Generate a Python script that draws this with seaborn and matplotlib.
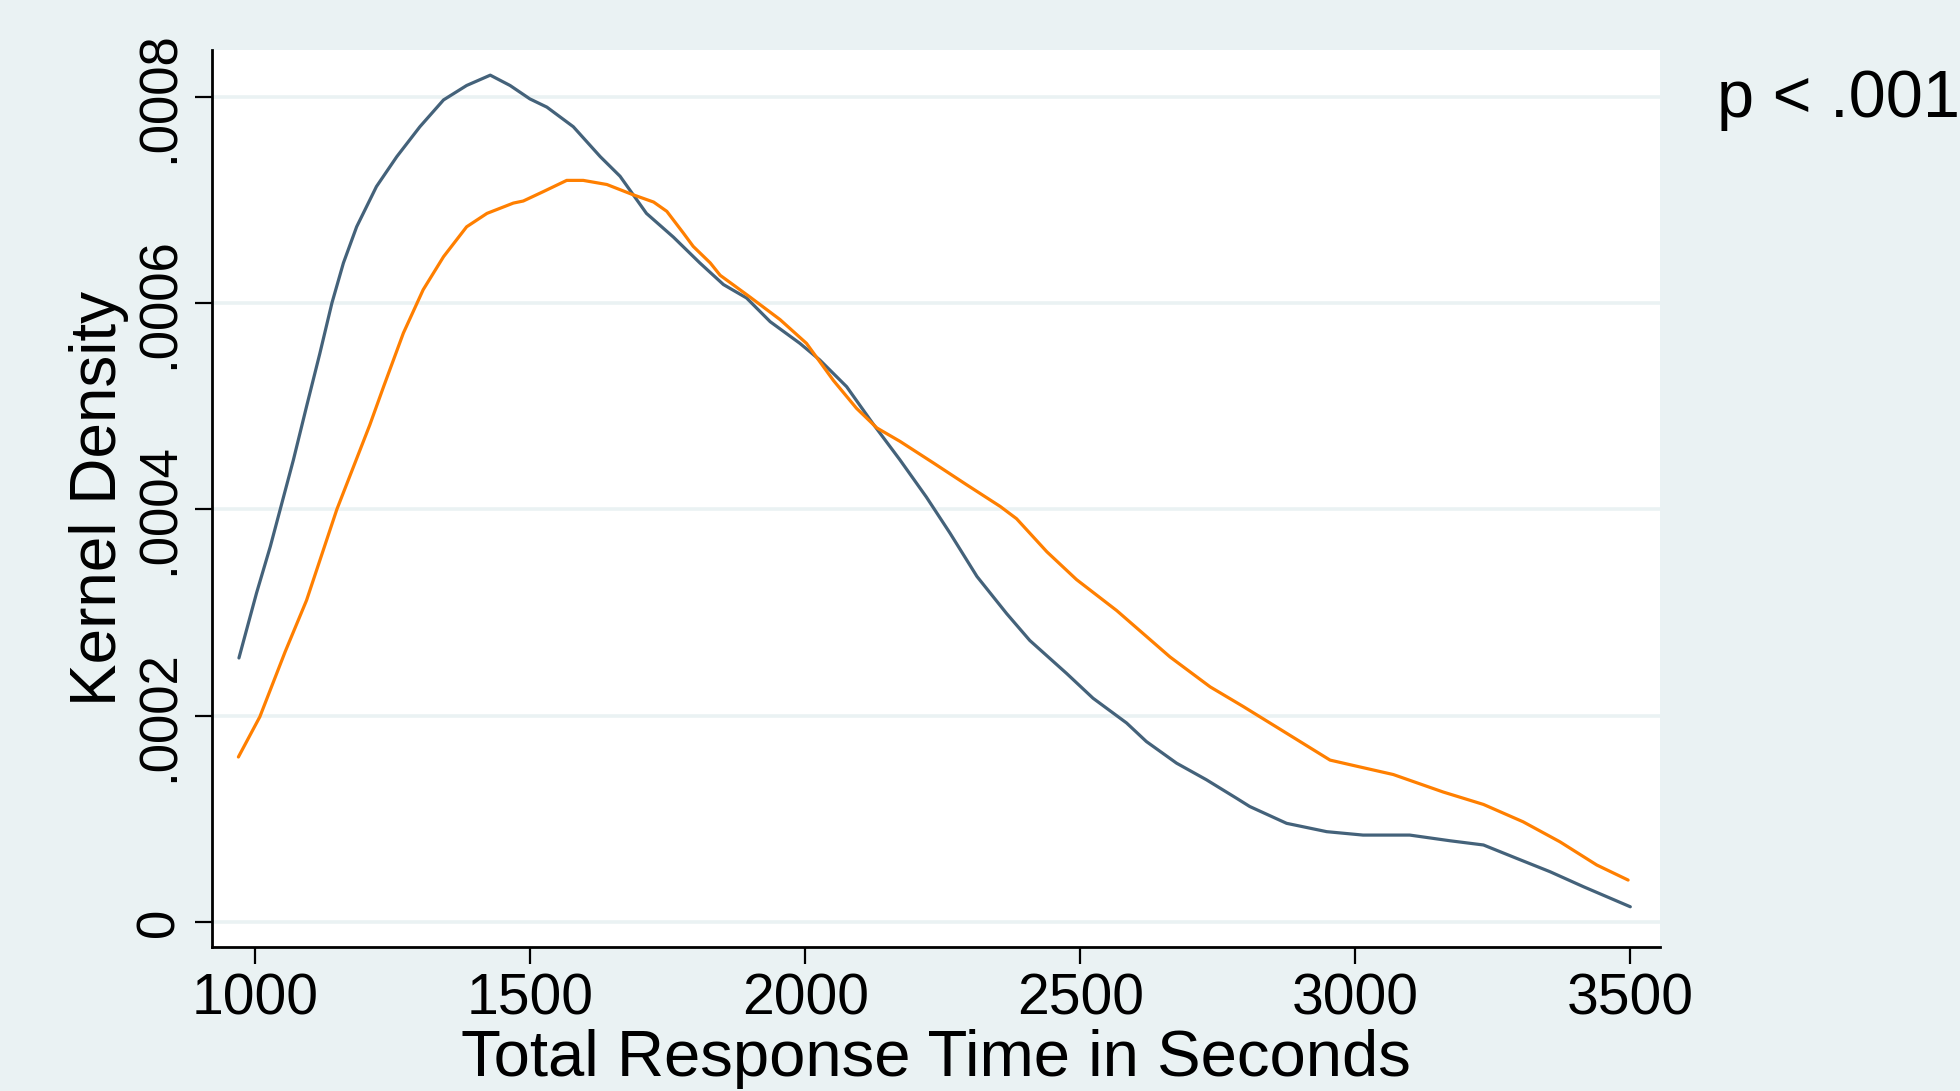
import numpy as np
import pandas as pd
import matplotlib
matplotlib.use("Agg")
import matplotlib.pyplot as plt
import seaborn as sns

# ---- data ----
blue_x = [970, 1002, 1027, 1045, 1069, 1093, 1117, 1139, 1160, 1184, 1220, 1257, 1299, 1342,
          1384, 1427, 1463, 1499, 1530, 1578, 1627, 1663, 1711, 1760, 1808, 1851, 1893, 1936,
          1990, 2026, 2075, 2123, 2172, 2220, 2263, 2312, 2366, 2408, 2475, 2523, 2584, 2620,
          2675, 2729, 2784, 2808, 2875, 2948, 3014, 3099, 3172, 3233, 3293, 3354, 3415, 3500]
blue_y = [.000256, .000319, .000364, .000400, .000448, .000500, .000551, .000600, .000639,
          .000674, .000713, .000742, .000771, .000797, .000811, .000821, .000811, .000798,
          .000790, .000771, .000742, .000723, .000687, .000664, .000639, .000618, .000605,
          .000582, .000561, .000545, .000519, .000483, .000448, .000412, .000377, .000335,
          .000299, .000273, .000241, .000217, .000193, .000175, .000154, .000138, .000120,
          .000112, .0000957, .0000876, .0000843, .0000843, .0000788, .0000747, .0000618,
          .0000488, .0000342, .0000148]

orange_x = [969, 1008, 1054, 1093, 1148, 1208, 1233, 1269, 1305, 1342, 1384, 1421, 1469, 1487,
            1523, 1566, 1596, 1639, 1687, 1724, 1748, 1778, 1796, 1827, 1845, 1899, 1954, 2002,
            2051, 2093, 2130, 2172, 2233, 2293, 2354, 2384, 2439, 2493, 2566, 2663, 2736, 2796,
            2869, 2954, 3003, 3069, 3160, 3233, 3305, 3372, 3439, 3496]
orange_y = [.000160, .000199, .000262, .000312, .000400, .000482, .000519, .000571, .000613,
            .000645, .000674, .000687, .000697, .000699, .000708, .000719, .000719, .000715,
            .000705, .000698, .000689, .000668, .000655, .000639, .000627, .000606, .000584,
            .000561, .000525, .000498, .000479, .000466, .000445, .000424, .000403, .000391,
            .000359, .000332, .000302, .000257, .000228, .000209, .000185, .000157, .000151,
            .000143, .000126, .000114, .0000972, .0000778, .0000553, .0000407]

x_ticks = [1000, 1500, 2000, 2500, 3000, 3500]
x_tick_labels = ["1000", "1500", "2000", "2500", "3000", "3500"]
y_ticks = [0, .0002, .0004, .0006, .0008]
y_tick_labels = ["0", ".0002", ".0004", ".0006", ".0008"]
x_label = "Total Response Time in Seconds"
y_label = "Kernel Density"
annotation = "p < .001"

BG = "#EAF2F3"
BLUE = "#44627A"
ORANGE = "#FF7F00"

sns.set_theme(style="white")
plt.rcParams["font.family"] = ["Liberation Sans", "DejaVu Sans"]

fig = plt.figure(figsize=(19.6, 10.91), dpi=100, facecolor=BG)
ax = fig.add_axes([212 / 1960, 1 - 947 / 1091, (1660 - 212) / 1960, (947 - 50) / 1091])
ax.set_facecolor("white")

sns.lineplot(x=blue_x, y=blue_y, ax=ax, color=BLUE, linewidth=2.3, sort=False,
             estimator=None)
sns.lineplot(x=orange_x, y=orange_y, ax=ax, color=ORANGE, linewidth=2.3, sort=False,
             estimator=None)

ax.set_xlim(921, 3554)
ax.set_ylim(-0.0000242, 0.0008454)

ax.set_xticks(x_ticks)
ax.set_xticklabels(x_tick_labels, fontsize=41)
ax.set_yticks(y_ticks)
ax.set_yticklabels(y_tick_labels, fontsize=38, rotation=90, va="center")

for yv in y_ticks:
    ax.axhline(yv, color=BG, linewidth=2.6, zorder=0.5)

for side in ["top", "right"]:
    ax.spines[side].set_visible(False)
for side in ["left", "bottom"]:
    ax.spines[side].set_color("black")
    ax.spines[side].set_linewidth(2.0)

ax.tick_params(axis="both", which="major", direction="out", length=12.5, width=1.6,
               color="black", labelcolor="black", left=True, bottom=True)
ax.tick_params(axis="y", pad=7)
ax.tick_params(axis="x", pad=6)

ax.set_xlabel(x_label, fontsize=47, color="black", labelpad=2)
ax.set_ylabel(y_label, fontsize=46, color="black", labelpad=4)

fig.text(1717 / 1960, 1 - 100 / 1091, annotation, fontsize=48, color="black",
         ha="left", va="center")

fig.savefig("out.png", dpi=100, facecolor=BG)
